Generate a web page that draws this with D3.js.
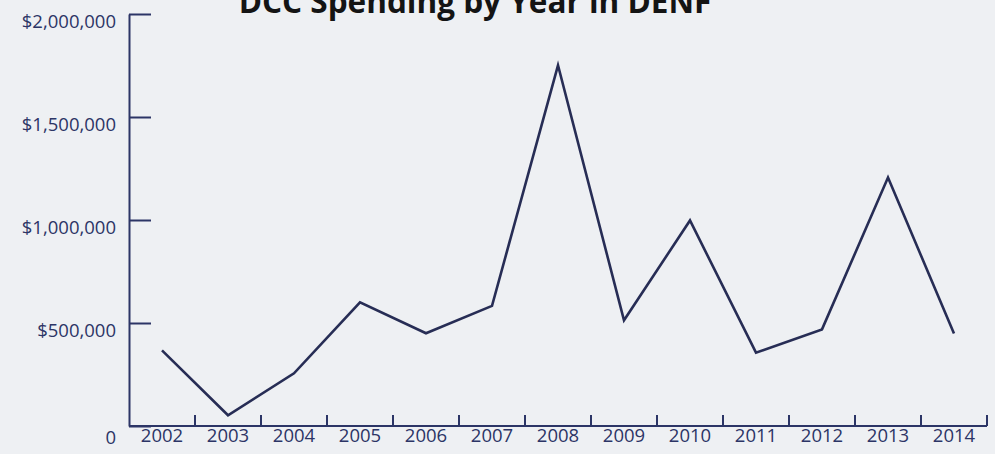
<!DOCTYPE html>
<html>
<head>
<meta charset="utf-8">
<script src="https://cdn.jsdelivr.net/npm/d3@7"></script>
<style>
  html, body { margin: 0; padding: 0; background: #eef0f3; }
  svg { display: block; }
</style>
</head>
<body>
<svg id="chart" width="995" height="454"></svg>
<script>
// Yearly spending, in dollars
const years = ["2002","2003","2004","2005","2006","2007","2008","2009","2010","2011","2012","2013","2014"];
const spending = [367000, 52000, 256000, 600000, 450000, 583000, 1751000, 513000, 998000, 356000, 469000, 1206000, 449000];
const yTickValues = [0, 500000, 1000000, 1500000, 2000000];
const yTickLabels = ["0", "$500,000", "$1,000,000", "$1,500,000", "$2,000,000"];
const title = "DCC Spending by Year in DENF";

const ink = "#2c3566";
const lineInk = "#272d55";
const font = "'Open Sans', sans-serif";

const svg = d3.select("#chart");
const plotLeft = 129, plotRight = 987, plotTop = 14, plotBottom = 426;

const x = d3.scaleBand().domain(years).range([plotLeft, plotRight]).padding(0);
const y = d3.scaleLinear().domain([0, 2000000]).range([plotBottom, plotTop]);

// Title
svg.append("text")
  .attr("x", 475).attr("y", 13)
  .attr("text-anchor", "middle")
  .attr("font-family", font)
  .attr("font-weight", 700)
  .attr("font-size", 31.5)
  .attr("fill", "#141414")
  .text(title);

// Y axis: ticks point inward, labels sit slightly below their ticks
const yAxis = d3.axisLeft(y)
  .tickValues(yTickValues)
  .tickFormat((d, i) => yTickLabels[i])
  .tickSizeInner(-22)
  .tickSizeOuter(0)
  .tickPadding(13);

const gy = svg.append("g")
  .attr("transform", `translate(${plotLeft},0)`)
  .call(yAxis);
gy.select(".domain").attr("stroke", ink).attr("stroke-width", 2);
gy.selectAll(".tick line").attr("stroke", ink).attr("stroke-width", 2);
gy.selectAll(".tick text")
  .attr("font-family", font)
  .attr("font-size", 18.5)
  .attr("fill", ink)
  .attr("dy", d => d === 0 ? "0.95em" : "0.72em");

// X axis: labels centered in each band, ticks on band boundaries
const xAxis = d3.axisBottom(x).tickSize(0).tickPadding(2.5);
const gx = svg.append("g")
  .attr("transform", `translate(0,${plotBottom})`)
  .call(xAxis);
gx.select(".domain").remove();
gx.selectAll(".tick text")
  .attr("font-family", font)
  .attr("font-size", 18.5)
  .attr("fill", ink);

svg.append("line")
  .attr("x1", plotLeft).attr("x2", plotRight)
  .attr("y1", y(0)).attr("y2", y(0))
  .attr("stroke", ink).attr("stroke-width", 2);

svg.append("g")
  .selectAll("line")
  .data(years)
  .join("line")
  .attr("x1", d => x(d) + x.bandwidth())
  .attr("x2", d => x(d) + x.bandwidth())
  .attr("y1", y(0))
  .attr("y2", y(0) - 11)
  .attr("stroke", ink)
  .attr("stroke-width", 2);

// Spending line
const line = d3.line()
  .x((d, i) => x(years[i]) + x.bandwidth() / 2)
  .y(d => y(d));

svg.append("path")
  .datum(spending)
  .attr("d", line)
  .attr("fill", "none")
  .attr("stroke", lineInk)
  .attr("stroke-width", 2.6)
  .attr("stroke-linejoin", "miter");
</script>
</body>
</html>
